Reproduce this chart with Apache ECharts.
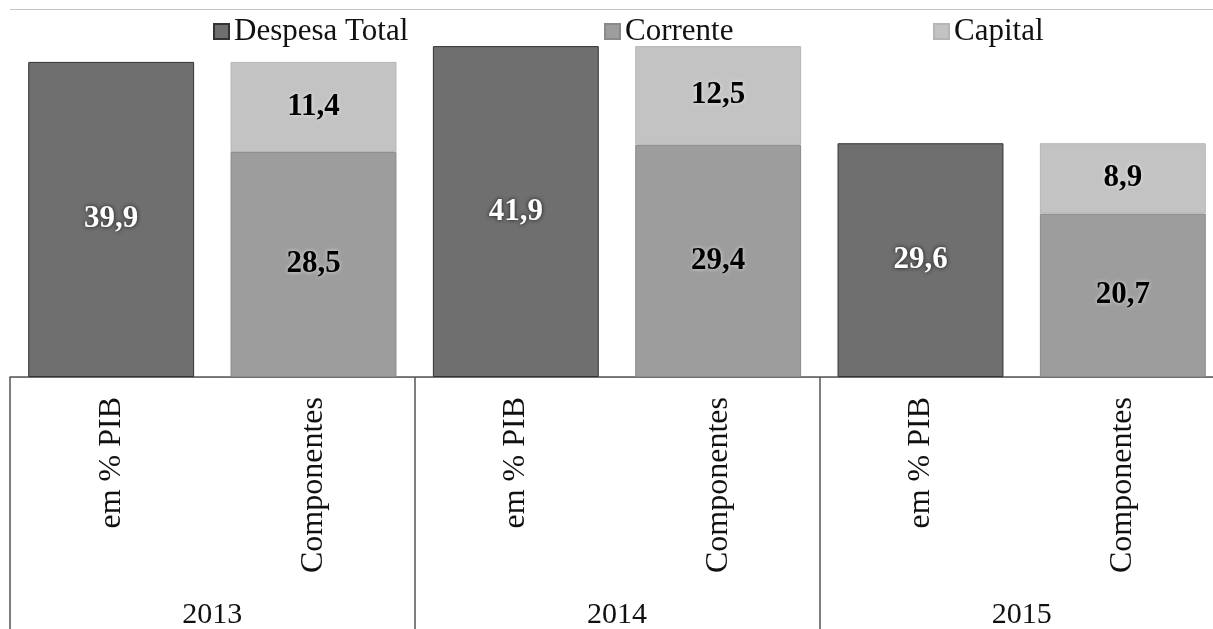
<!DOCTYPE html>
<html>
<head>
<meta charset="utf-8">
<script src="https://cdn.jsdelivr.net/npm/echarts@6/dist/echarts.min.js"></script>
<style>html,body{margin:0;padding:0;background:#fff;}#c{width:1213px;height:629px;}</style>
</head>
<body>
<div id="c"></div>
<script>
const categories = ['em % PIB', 'Componentes', 'em % PIB', 'Componentes', 'em % PIB', 'Componentes'];
const years = ['2013', '2014', '2015'];
const despesaTotal = [39.9, null, 41.9, null, 29.6, null];
const corrente = [null, 28.5, null, 29.4, null, 20.7];
const capital = [null, 11.4, null, 12.5, null, 8.9];

const FONT = '"Liberation Serif", "Times New Roman", serif';
const fmt = p => String(p.value).replace('.', ',');

const chart = echarts.init(document.getElementById('c'), null, {renderer: 'canvas'});
const legendText = {fontFamily: FONT, fontSize: 31, color: '#111'};
const legendBase = {left: 0, top: 11, itemWidth: 15, itemHeight: 15, icon: 'rect', textStyle: legendText, selectedMode: false};
chart.setOption({
  animation: false,
  backgroundColor: '#fff',
  grid: {left: 10, top: 9, right: -11, bottom: 252, containLabel: false, outerBoundsMode: 'none'},
  legend: [
    Object.assign({}, legendBase, {data: ['Despesa Total'], left: 208}),
    Object.assign({}, legendBase, {data: ['Corrente'], left: 599}),
    Object.assign({}, legendBase, {data: ['Capital'], left: 928})
  ],
  xAxis: [
    {
      type: 'category', data: categories, position: 'bottom',
      axisLine: {show: true, lineStyle: {color: '#555', width: 1.5}},
      axisTick: {show: false},
      axisLabel: {rotate: 90, margin: 20, interval: 0, fontFamily: FONT, fontSize: 32, color: '#111'}
    },
    {
      type: 'category', data: years, position: 'bottom', offset: 0,
      axisLine: {show: false},
      axisTick: {show: true, interval: 0, length: 255, lineStyle: {color: '#555', width: 1.5}},
      axisLabel: {margin: 223, interval: 0, fontFamily: FONT, fontSize: 30, color: '#111'}
    }
  ],
  yAxis: {
    type: 'value', min: 0, max: 46.6, interval: 46.6,
    axisLine: {show: false}, axisTick: {show: false}, axisLabel: {show: false},
    splitLine: {show: true, lineStyle: {color: '#c4c4c4', width: 1.2}}
  },
  series: [
    {
      name: 'Despesa Total', type: 'bar', stack: 'a', data: despesaTotal, barWidth: '82%',
      itemStyle: {color: '#6f6f6f', borderColor: '#333', borderWidth: 1},
      label: {show: true, position: 'inside', formatter: fmt, fontFamily: FONT, fontSize: 31, fontWeight: 'bold', color: '#fff',
        textShadowColor: 'rgba(0,0,0,0.8)', textShadowBlur: 4}
    },
    {
      name: 'Corrente', type: 'bar', stack: 'a', data: corrente, barWidth: '82%',
      itemStyle: {color: '#9d9d9d', borderColor: '#8a8a8a', borderWidth: 1},
      label: {show: true, position: 'inside', formatter: fmt, fontFamily: FONT, fontSize: 31, fontWeight: 'bold', color: '#000',
        textShadowColor: 'rgba(255,255,255,0.7)', textShadowBlur: 4}
    },
    {
      name: 'Capital', type: 'bar', stack: 'a', data: capital, barWidth: '82%',
      itemStyle: {color: '#c3c3c3', borderColor: '#b5b5b5', borderWidth: 1},
      label: {show: true, position: 'inside', formatter: fmt, fontFamily: FONT, fontSize: 31, fontWeight: 'bold', color: '#000',
        textShadowColor: 'rgba(255,255,255,0.7)', textShadowBlur: 4}
    }
  ]
});
</script>
</body>
</html>
